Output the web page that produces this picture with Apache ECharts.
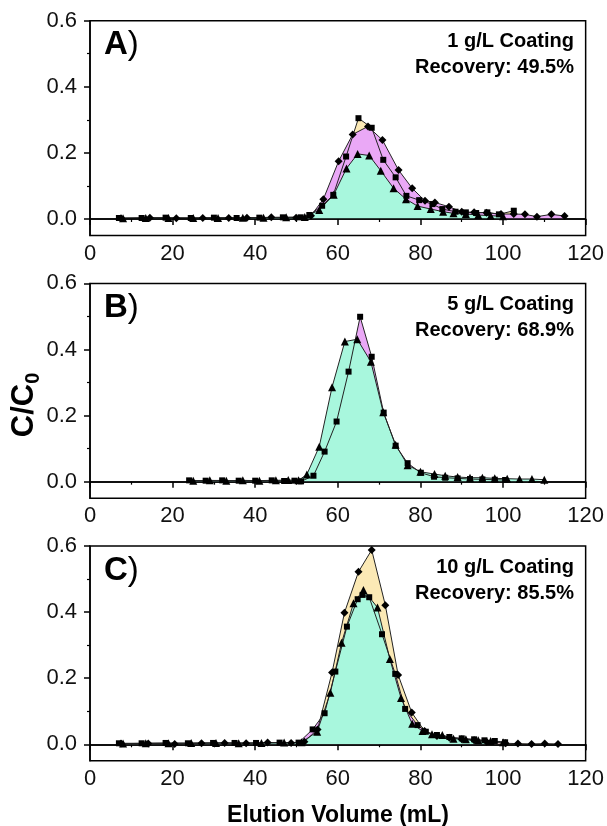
<!DOCTYPE html>
<html>
<head>
<meta charset="utf-8">
<script src="https://cdn.jsdelivr.net/npm/echarts@6/dist/echarts.min.js"></script>
<style>
  html, body { margin: 0; padding: 0; background: #fff; }
  #chart { width: 607px; height: 826px; }
</style>
</head>
<body>
<div id="chart"></div>
<script>
// ---- data: [elution volume (mL), C/C0] ----
const aSquare = [[7,0.003],[12.5,0.003],[18.3,0.004],[24.4,0.003],[30,0.004],[35.5,0.003],[41,0.004],[46.7,0.005],[51,0.005],[53.1,0.012],[56.2,0.04],[58.9,0.073],[62,0.189],[65,0.305],[68.2,0.276],[71,0.179],[74,0.126],[76.6,0.07],[79.7,0.057],[82.9,0.045],[85.3,0.03],[88.5,0.022],[91,0.02],[93.5,0.018],[96.2,0.02],[99,0.014],[102.6,0.025]];
const aDiamond = [[7.5,0.002],[14.5,0.004],[20.9,0.002],[27.3,0.003],[33.6,0.003],[38,0.004],[43.9,0.005],[49.9,0.004],[53.5,0.01],[56.5,0.06],[60.2,0.175],[63.6,0.256],[67.3,0.28],[70.8,0.239],[74.7,0.148],[78,0.093],[81.1,0.055],[83.5,0.05],[86.9,0.037],[90,0.022],[93,0.02],[96,0.019],[99.5,0.015],[102.6,0.015],[105.3,0.014],[108.2,0.007],[111.7,0.014],[114.9,0.009]];
const aTriangle = [[8,0.002],[13.5,0.003],[19,0.003],[25,0.003],[31,0.003],[37,0.004],[42,0.004],[47.5,0.005],[52,0.006],[55.5,0.027],[59,0.073],[62.1,0.153],[64.8,0.197],[67.6,0.192],[70.4,0.146],[73.5,0.093],[76.5,0.06],[79.3,0.039],[82.5,0.03],[85.5,0.022],[88,0.017],[91,0.015],[94,0.012],[97,0.01],[100,0.008]];

const bSquare = [[24,0.004],[28,0.003],[32,0.004],[36,0.003],[40,0.003],[44,0.004],[47,0.002],[49.5,0.003],[51.1,0.001],[54.1,0.018],[56.8,0.091],[59.7,0.182],[62.6,0.333],[65.4,0.499],[68.2,0.378],[71.1,0.209],[74,0.109],[76.9,0.056],[80.1,0.027],[83.3,0.015],[86,0.012],[89,0.01],[92,0.008],[95,0.007],[98,0.006],[100.5,0.005]];
const bTriangle = [[25,0.003],[29,0.004],[33,0.003],[37,0.004],[41,0.003],[45,0.004],[48,0.005],[50.5,0.004],[52.5,0.022],[55.5,0.106],[58.6,0.286],[61.7,0.424],[64.7,0.431],[68,0.363],[71,0.21],[74,0.112],[76.9,0.05],[80,0.03],[83.4,0.023],[86,0.018],[89,0.014],[92,0.012],[95,0.012],[98,0.01],[101,0.009],[104,0.008],[107,0.008],[110,0.006]];

const cDiamond = [[7.5,0.002],[14.1,0.002],[20.5,0.001],[27,0.003],[32.6,0.004],[37.8,0.003],[43,0.005],[48.7,0.004],[51.9,0.008],[55.1,0.045],[58.6,0.217],[61.6,0.398],[65,0.522],[68.2,0.588],[71.5,0.421],[74.6,0.21],[77.9,0.096],[81,0.04],[84,0.025],[87,0.02],[90,0.015],[93,0.012],[96,0.008],[100.6,0.003],[103.6,0.002],[106.9,0.001],[110.1,0.002],[113.3,0.001]];
const cSquare = [[7,0.003],[12.5,0.003],[18.3,0.004],[23.7,0.003],[29.8,0.004],[35,0.004],[40.2,0.004],[45.9,0.005],[50.5,0.005],[53.9,0.045],[56.8,0.094],[59.4,0.22],[62.2,0.356],[64.8,0.439],[66,0.452],[67.6,0.445],[70.7,0.333],[73.9,0.213],[76.3,0.107],[79.3,0.058],[81.3,0.038],[84,0.028],[87,0.022],[90,0.018],[93,0.015],[95.5,0.012],[98,0.01],[100.5,0.006]];
const cTriangle = [[8,0.002],[13.5,0.003],[19,0.003],[24.5,0.004],[30.5,0.004],[36,0.003],[41.5,0.004],[47,0.005],[51.2,0.006],[55,0.038],[58.2,0.156],[60.9,0.307],[63.8,0.427],[66.2,0.467],[69.6,0.414],[72.6,0.258],[75.3,0.14],[78,0.062],[80.5,0.04],[82.8,0.03],[85.3,0.028],[88,0.017],[91,0.015],[94,0.012],[97,0.01],[100,0.006]];

const panelLabels = ['A', 'B', 'C'];
const coatings = ['1 g/L Coating', '5 g/L Coating', '10 g/L Coating'];
const recoveries = ['Recovery: 49.5%', 'Recovery: 68.9%', 'Recovery: 85.5%'];
const yTicks = [0, 0.2, 0.4, 0.6];
const yMinorTicks = [0.1, 0.3, 0.5];

const YELLOW = '#fbe9b5';
const VIOLET = '#eaa8f6';
const CYAN = '#a8f7dd';
const FONT = '"Liberation Sans", Arial, sans-serif';

// drawing order inside each panel: first is bottom
const panels = [
  [{ d: aSquare, fill: YELLOW, sym: 'rect' }, { d: aDiamond, fill: VIOLET, sym: 'diamond' }, { d: aTriangle, fill: CYAN, sym: 'triangle' }],
  [{ d: bSquare, fill: VIOLET, sym: 'rect' }, { d: bTriangle, fill: CYAN, sym: 'triangle' }],
  [{ d: cDiamond, fill: YELLOW, sym: 'diamond' }, { d: cSquare, fill: VIOLET, sym: 'rect' }, { d: cTriangle, fill: CYAN, sym: 'triangle' }]
];

const gridTops = [20.7, 283.4, 546];
const gridH = 214.8;

const chart = echarts.init(document.getElementById('chart'));

let grids = [], xAxes = [], yAxes = [], series = [], graphics = [];
const symSize = { rect: 6, triangle: 8, diamond: 8 };

panels.forEach(function (list, p) {
  grids.push({ left: 90, width: 497, top: gridTops[p], height: gridH, show: true, borderColor: '#000', borderWidth: 1.5 });
  xAxes.push({
    gridIndex: p, type: 'value', min: 0, max: 120, interval: 20,
    axisLine: { show: true, lineStyle: { color: '#000', width: 1.5 } },
    axisTick: { show: true, length: 6, lineStyle: { color: '#000', width: 1.5 } },
    minorTick: { show: true, splitNumber: 2, length: 3, lineStyle: { color: '#000', width: 1.2 } },
    axisLabel: { color: '#111', fontSize: 22, fontFamily: FONT, margin: 7 },
    splitLine: { show: false }
  });
  yAxes.push({
    gridIndex: p, type: 'value', min: -0.05, max: 0.6,
    axisLine: { show: true, lineStyle: { color: '#000', width: 1.5 } },
    axisTick: { show: true, length: 6, customValues: yTicks, lineStyle: { color: '#000', width: 1.5 } },
    axisLabel: { color: '#111', fontSize: 22, fontFamily: FONT, margin: 13, customValues: yTicks, formatter: function (v) { return v.toFixed(1); } },
    splitLine: { show: false }
  });
  // second y axis only for the minor ticks
  yAxes.push({
    gridIndex: p, type: 'value', min: -0.05, max: 0.6, position: 'left',
    axisLine: { show: false },
    axisTick: { show: true, length: 3, customValues: yMinorTicks, lineStyle: { color: '#000', width: 1.2 } },
    axisLabel: { show: false, customValues: yMinorTicks },
    splitLine: { show: false }
  });

  list.forEach(function (s) {
    series.push({
      type: 'line', xAxisIndex: p, yAxisIndex: p * 2, data: s.d,
      symbol: 'none', z: 2, silent: true,
      lineStyle: { width: 0 },
      areaStyle: { color: s.fill, opacity: 1, origin: 0 }
    });
  });
  list.forEach(function (s, i) {
    let ser = {
      type: 'line', xAxisIndex: p, yAxisIndex: p * 2, data: s.d,
      symbol: s.sym, symbolSize: symSize[s.sym], z: 4,
      itemStyle: { color: '#000' },
      lineStyle: { color: '#222', width: 1 }
    };
    if (i === 0) {
      ser.markLine = {
        silent: true, symbol: 'none', label: { show: false },
        lineStyle: { color: '#000', width: 1.5, type: 'solid' },
        data: [{ yAxis: 0 }]
      };
    }
    series.push(ser);
  });

  graphics.push({
    type: 'text', left: 104, top: gridTops[p] + 8,
    style: {
      text: '{b|' + panelLabels[p] + '}{n|)}',
      rich: {
        b: { fontSize: 33, fontWeight: 'bold', fontFamily: FONT, fill: '#000' },
        n: { fontSize: 33, fontFamily: FONT, fill: '#000' }
      }
    }
  });
  graphics.push({
    type: 'text', x: 574, y: gridTops[p] + 21,
    style: { text: coatings[p], fontSize: 20, fontWeight: 'bold', fontFamily: FONT, fill: '#000', align: 'right', verticalAlign: 'middle' }
  });
  graphics.push({
    type: 'text', x: 574, y: gridTops[p] + 47,
    style: { text: recoveries[p], fontSize: 20, fontWeight: 'bold', fontFamily: FONT, fill: '#000', align: 'right', verticalAlign: 'middle' }
  });
});

graphics.push({
  type: 'text', x: 24, y: 405, rotation: Math.PI / 2,
  style: {
    text: '{m|C/C}{s|0}',
    align: 'center', verticalAlign: 'middle',
    rich: {
      m: { fontSize: 31, fontWeight: 'bold', fontFamily: FONT, fill: '#000' },
      s: { fontSize: 20, fontWeight: 'bold', fontFamily: FONT, fill: '#000', padding: [18, 0, 0, 0] }
    }
  }
});
graphics.push({
  type: 'text', x: 338, y: 816,
  style: { text: 'Elution Volume (mL)', fontSize: 23, fontWeight: 'bold', fontFamily: FONT, fill: '#000', align: 'center', verticalAlign: 'middle' }
});

chart.setOption({
  animation: false,
  grid: grids,
  xAxis: xAxes,
  yAxis: yAxes,
  series: series,
  graphic: graphics
});
</script>
</body>
</html>
